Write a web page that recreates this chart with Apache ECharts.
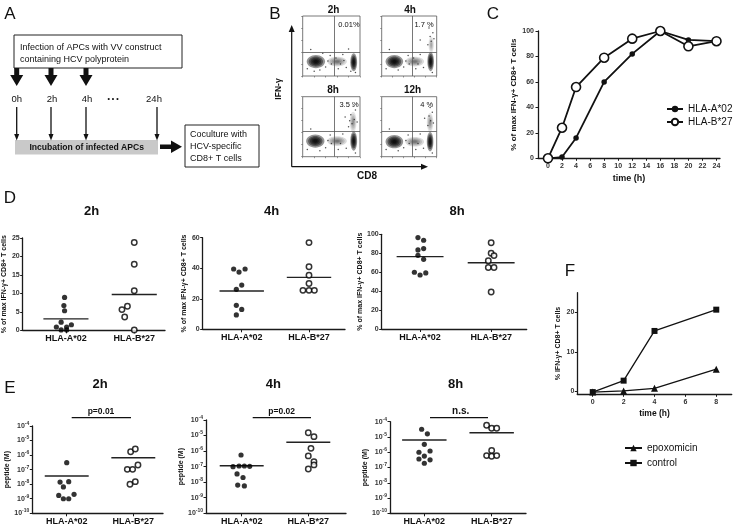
<!DOCTYPE html>
<html><head><meta charset="utf-8">
<script src="https://cdn.jsdelivr.net/npm/echarts@6/dist/echarts.min.js"></script>
<style>html,body{margin:0;padding:0;background:#fff}#c{width:735px;height:530px}</style>
</head><body><div id="c"></div><script>
// ================= DATA =================
// Panel C: time course
const cTime = [0, 2, 4, 8, 12, 16, 20, 24];
const cA02  = [0, 1, 16, 60, 82, 100, 93, 92];
const cB27  = [0, 24, 56, 79, 94, 100, 88, 92];
const cTicks = [0, 2, 4, 6, 8, 10, 12, 14, 16, 18, 20, 22, 24];

const groups = ['HLA-A*02', 'HLA-B*27'];

// Panel D: % of max IFN-g+ CD8+ T cells (values, jitter in group units, medians)
const d2hA = [8.9, 6.7, 5.3, 2.2, 1.5, 0.9, 0.9, 0.1, 0.1];
const d2hAj = [-0.02, -0.03, -0.02, -0.07, 0.08, -0.14, 0.01, -0.07, 0.01];
const d2hB = [23.8, 17.9, 10.7, 6.5, 5.6, 3.6, 0.1];
const d2hBj = [0, 0, 0, -0.1, -0.18, -0.14, 0];
const d2hMed = [3.1, 9.7];

const d4hA = [39.5, 37.5, 39.5, 26.2, 29, 15.7, 13, 9.4];
const d4hAj = [-0.12, -0.04, 0.05, -0.08, 0, -0.08, 0, -0.08];
const d4hB = [56.8, 41, 35.4, 30, 25.5, 25.5, 25.5];
const d4hBj = [0, 0, 0, 0, -0.09, 0, 0.08];
const d4hMed = [25.1, 34];

const d8hA = [96.5, 93.7, 83.5, 84.9, 77.8, 73.6, 59.9, 57, 59.2];
const d8hAj = [-0.03, 0.05, -0.03, 0.05, -0.03, 0.05, -0.08, 0, 0.08];
const d8hB = [91, 80, 77.5, 72, 65, 65, 39];
const d8hBj = [0, 0, 0.04, -0.04, -0.04, 0.04, 0];
const d8hMed = [76.4, 70];

// Panel E: peptide (M)
const e2hA = [3.0e-7, 1.4e-8, 1.5e-8, 6.5e-9, 1.7e-9, 2.0e-9, 1.0e-9, 1.0e-9];
const e2hAj = [0, -0.1, 0.03, -0.05, -0.12, 0.11, -0.05, 0.03];
const e2hB = [1.7e-6, 2.6e-6, 1.05e-7, 1.05e-7, 2.1e-7, 1.0e-8, 1.5e-8];
const e2hBj = [-0.04, 0.03, -0.09, -0.01, 0.07, -0.05, 0.03];
const e2hMed = [3.7e-8, 6.6e-7];

const e4hA = [5.6e-7, 1.0e-7, 1.1e-7, 1.1e-7, 1.05e-7, 3.4e-8, 2.0e-8, 6.5e-9, 5.8e-9];
const e4hAj = [-0.01, -0.13, -0.04, 0.04, 0.12, -0.07, 0.02, -0.06, 0.04];
const e4hB = [1.5e-5, 8.5e-6, 1.5e-6, 4.9e-7, 2.1e-7, 1.3e-7, 7.1e-8];
const e4hBj = [0, 0.085, 0.04, 0, 0.085, 0.085, 0];
const e4hMed = [1.15e-7, 3.7e-6];

const e8hA = [3.2e-5, 1.6e-5, 3.3e-6, 1.0e-6, 1.2e-6, 5.6e-7, 3.6e-7, 3.2e-7, 1.9e-7];
const e8hAj = [-0.04, 0.045, 0, -0.08, 0.085, 0, -0.08, 0.085, 0];
const e8hB = [5.8e-5, 3.7e-5, 3.7e-5, 1.3e-6, 6.0e-7, 5.5e-7, 6.0e-7];
const e8hBj = [-0.075, 0, 0.075, 0, -0.075, 0, 0.075];
const e8hMed = [6.3e-6, 1.9e-5];

const eTicks = [1e-10, 1e-9, 1e-8, 1e-7, 1e-6, 1e-5, 1e-4];

// Panel F
const fTime = [0, 2, 4, 8];
const fEpox = [-0.2, 0.1, 0.75, 5.6];
const fCtrl = [-0.2, 2.7, 15.3, 20.7];
const fXTicks = [0, 2, 4, 6, 8];
const fYTicks = [0, 10, 20];

// Panel B: flow plots (cell clusters: [cx, cy, rx, ry, density] in % of plot), gates, scattered events
const flowTitles = ['2h', '4h', '8h', '12h'];
const flowPct = ['0.01%', '1.7 %', '3.5 %', '4 %'];
const flowGateX = [55, 56, 55, 56];
const flowGateY = [40, 40, 42, 42];
const flowBlobs = [
  [[23, 24, 16, 11, 1], [60, 24, 17, 8, 0.35], [89, 23, 6, 15, 1]],
  [[23, 24, 16, 11, 1], [60, 24, 17, 8, 0.35], [89, 24, 6, 16, 1], [90, 52, 5, 14, 0.2]],
  [[22, 26, 16, 11, 1], [60, 26, 17, 8, 0.35], [89, 26, 6, 16, 1], [88, 58, 6, 17, 0.25]],
  [[23, 25, 16, 11, 1], [60, 25, 17, 8, 0.35], [88, 25, 6, 16, 1], [88, 57, 6, 16, 0.25]]
];
const flowDots = [
  [[8,12],[14,44],[30,10],[40,15],[48,34],[62,12],[70,36],[76,14],[92,6],[80,45],[50,20],[35,38],[66,20],[44,25],[58,30],[72,26],[20,8],[84,8]],
  [[8,12],[14,44],[30,10],[40,15],[48,34],[62,12],[70,36],[76,14],[92,6],[50,20],[66,20],[44,25],[58,30],[84,52],[90,58],[88,66],[93,72],[86,80],[95,62],[70,60]],
  [[8,12],[14,46],[30,10],[40,15],[48,36],[62,12],[70,38],[76,14],[92,6],[50,22],[66,22],[44,27],[80,50],[86,55],[90,62],[84,70],[92,78],[88,84],[95,58],[82,60],[74,66]],
  [[8,12],[14,46],[30,10],[40,15],[48,36],[62,12],[70,38],[76,14],[92,6],[50,22],[66,22],[44,27],[84,52],[89,60],[86,68],[92,74],[88,82],[94,56],[78,64]]
];

// ================= CHART =================
const FF = 'Liberation Sans, Arial, Helvetica, sans-serif';
const AX = '#1a1a1a';
const HALF = 0.33;
const chart = echarts.init(document.getElementById('c'), null, {renderer: 'canvas'});

const grids = [
  {left: 538, top: 31, width: 182, height: 127.3},                 // 0 C
  {left: 302.7, top: 16, width: 57.3, height: 60},                  // 1 flow 2h
  {left: 381.7, top: 16, width: 55, height: 60},                    // 2 flow 4h
  {left: 302.7, top: 96.7, width: 57.3, height: 60},                // 3 flow 8h
  {left: 381.7, top: 96.7, width: 55, height: 60},                  // 4 flow 12h
  {left: 19.3, top: 238, width: 145.7, height: 92.3},               // 5 D 2h
  {left: 202.7, top: 237.7, width: 142.3, height: 91.6},            // 6 D 4h
  {left: 381.7, top: 234.3, width: 145, height: 94.7},              // 7 D 8h
  {left: 32.3, top: 426, width: 130.7, height: 87.3},               // 8 E 2h
  {left: 206, top: 420, width: 140, height: 93.3},                  // 9 E 4h
  {left: 390, top: 421.7, width: 136, height: 91.6},                // 10 E 8h
  {left: 577.3, top: 292.7, width: 154.4, height: 101.6}            // 11 F
];
for (let i = 1; i <= 4; i++) Object.assign(grids[i], {show: true, borderColor: '#555', borderWidth: 0.8, backgroundColor: 'transparent'});

const xAxes = [], yAxes = [], series = [];
const lineAx = {show: true, onZero: false, lineStyle: {color: AX, width: 1.3}};
const tickLbl = {fontSize: 7, fontWeight: 'bold', color: '#333', margin: 3, fontFamily: FF};

// --- C
xAxes.push({type: 'value', gridIndex: 0, min: -1.42, max: 24.5, axisLine: lineAx,
  axisTick: {show: true, customValues: cTicks, length: 2.5, lineStyle: {color: AX}},
  axisLabel: Object.assign({}, tickLbl, {customValues: cTicks, margin: 4}), splitLine: {show: false},
  name: 'time (h)', nameLocation: 'middle', nameGap: 16, nameTextStyle: {fontSize: 9, fontWeight: 'bold', color: '#111', fontFamily: FF}});
yAxes.push({type: 'value', gridIndex: 0, min: 0, max: 100, interval: 20, axisLine: lineAx,
  axisTick: {show: true, length: 2.5, lineStyle: {color: AX}}, axisLabel: Object.assign({}, tickLbl, {margin: 4}), splitLine: {show: false},
  name: '% of max IFN-\u03b3+ CD8+ T cells', nameLocation: 'middle', nameGap: 20, nameTextStyle: {fontSize: 8, fontWeight: 'bold', color: '#111', fontFamily: FF}});
series.push({type: 'line', name: 'HLA-A*02', xAxisIndex: 0, yAxisIndex: 0, data: cTime.map((t, i) => [t, cA02[i]]),
  symbol: 'circle', symbolSize: 5.5, showAllSymbol: true, lineStyle: {color: '#111', width: 1.8}, itemStyle: {color: '#111'}});
series.push({type: 'line', name: 'HLA-B*27', xAxisIndex: 0, yAxisIndex: 0, data: cTime.map((t, i) => [t, cB27[i]]),
  symbol: 'circle', symbolSize: 9, showAllSymbol: true, lineStyle: {color: '#111', width: 1.8}, itemStyle: {color: '#fff', borderColor: '#111', borderWidth: 1.6}});

// --- B flow plots
function blobRender(params, api) {
  const c = api.coord([api.value(0), api.value(1)]);
  const s = api.size([api.value(2), api.value(3)]);
  const d = api.value(4);
  const children = [];
  [1, 0.78, 0.58, 0.4, 0.24].forEach(k => children.push({type: 'ellipse',
    shape: {cx: c[0], cy: c[1], rx: s[0] * k, ry: s[1] * k},
    style: {fill: 'rgba(0,0,0,' + (0.42 * d) + ')'}}));
  return {type: 'group', children};
}
for (let i = 0; i < 4; i++) {
  const g = i + 1;
  xAxes.push({type: 'value', gridIndex: g, min: 0, max: 100, interval: 20, axisLine: {show: false, onZero: false},
    axisTick: {show: true, length: 1.5, lineStyle: {color: '#555', width: 0.6}}, axisLabel: {show: false}, splitLine: {show: false}});
  yAxes.push({type: 'value', gridIndex: g, min: 0, max: 100, interval: 20, axisLine: {show: false, onZero: false},
    axisTick: {show: true, length: 1.5, lineStyle: {color: '#555', width: 0.6}}, axisLabel: {show: false}, splitLine: {show: false}});
  series.push({type: 'custom', name: 'flow' + i, xAxisIndex: g, yAxisIndex: g, data: flowBlobs[i], renderItem: blobRender, clip: true, silent: true});
  series.push({type: 'scatter', name: 'flowdots' + i, xAxisIndex: g, yAxisIndex: g, data: flowDots[i], symbolSize: 1.5,
    itemStyle: {color: '#222'}, silent: true,
    markLine: {silent: true, symbol: 'none', label: {show: false}, lineStyle: {color: '#555', width: 0.8, type: 'solid'},
      data: [{xAxis: flowGateX[i]}, {yAxis: flowGateY[i]}]}});
}

// --- D & E dot plots
function groupX(gi, min, max) {
  return {type: 'value', gridIndex: gi, min, max, axisLine: lineAx,
    axisTick: {show: true, customValues: [1, 2], length: 3, lineStyle: {color: AX}},
    axisLabel: {customValues: [1, 2], formatter: v => groups[Math.round(v) - 1] || '', fontSize: 9, fontWeight: 'bold', color: '#111', margin: 4, fontFamily: FF},
    splitLine: {show: false}};
}
function dotSeries(gi, A, Aj, B, Bj, med, tag) {
  series.push({type: 'scatter', name: tag + 'A', xAxisIndex: gi, yAxisIndex: gi, data: A.map((v, i) => [1 + Aj[i], v]),
    symbol: 'circle', symbolSize: 5.2, itemStyle: {color: '#000'}, z: 3});
  series.push({type: 'scatter', name: tag + 'B', xAxisIndex: gi, yAxisIndex: gi, data: B.map((v, i) => [2 + Bj[i], v]),
    symbol: 'circle', symbolSize: 5.4, itemStyle: {color: '#fff', borderColor: '#000', borderWidth: 1.5}, z: 3});
  series.push({type: 'line', name: tag + 'mA', xAxisIndex: gi, yAxisIndex: gi, data: [[1 - HALF, med[0]], [1 + HALF, med[0]]],
    symbol: 'none', lineStyle: {color: '#222', width: 1.4}, z: 2});
  series.push({type: 'line', name: tag + 'mB', xAxisIndex: gi, yAxisIndex: gi, data: [[2 - HALF, med[1]], [2 + HALF, med[1]]],
    symbol: 'none', lineStyle: {color: '#222', width: 1.4}, z: 2});
}
const dName = '% of max IFN-\u03b3+ CD8+ T cells';
function dY(gi, max, interval, gap) {
  return {type: 'value', gridIndex: gi, min: 0, max, interval, axisLine: lineAx,
    axisTick: {show: true, length: 2.5, lineStyle: {color: AX}}, axisLabel: tickLbl, splitLine: {show: false},
    name: dName, nameLocation: 'middle', nameGap: gap, nameTextStyle: {fontSize: 7, fontWeight: 'bold', color: '#111', fontFamily: FF}};
}
function eY(gi, gap) {
  return {type: 'log', logBase: 10, gridIndex: gi, min: eTicks[0], max: eTicks[eTicks.length - 1], axisLine: lineAx,
    axisTick: {show: true, length: 2.5, lineStyle: {color: AX}},
    axisLabel: {margin: 3, formatter: v => '{b|10}{s|' + Math.round(Math.log10(v)) + '}',
      rich: {b: {fontSize: 7, fontWeight: 'bold', color: '#333', fontFamily: FF},
             s: {fontSize: 5, fontWeight: 'bold', color: '#333', fontFamily: FF, verticalAlign: 'top', padding: [0, 0, 5, 0]}}},
    splitLine: {show: false}, minorTick: {show: false},
    name: 'peptide (M)', nameLocation: 'middle', nameGap: gap, nameTextStyle: {fontSize: 7, fontWeight: 'bold', color: '#111', fontFamily: FF}};
}
xAxes.push(groupX(5, 0.367, 2.45)); yAxes.push(dY(5, 25, 5, 10));
xAxes.push(groupX(6, 0.42, 2.535)); yAxes.push(dY(6, 60, 20, 10));
xAxes.push(groupX(7, 0.46, 2.50)); yAxes.push(dY(7, 100, 20, 14));
xAxes.push(groupX(8, 0.483, 2.446)); yAxes.push(eY(8, 20));
xAxes.push(groupX(9, 0.464, 2.566)); yAxes.push(eY(9, 20));
xAxes.push(groupX(10, 0.49, 2.51)); yAxes.push(eY(10, 20));
dotSeries(5, d2hA, d2hAj, d2hB, d2hBj, d2hMed, 'd2');
dotSeries(6, d4hA, d4hAj, d4hB, d4hBj, d4hMed, 'd4');
dotSeries(7, d8hA, d8hAj, d8hB, d8hBj, d8hMed, 'd8');
dotSeries(8, e2hA, e2hAj, e2hB, e2hBj, e2hMed, 'e2');
dotSeries(9, e4hA, e4hAj, e4hB, e4hBj, e4hMed, 'e4');
dotSeries(10, e8hA, e8hAj, e8hB, e8hBj, e8hMed, 'e8');

// --- F
xAxes.push({type: 'value', gridIndex: 11, min: -1, max: 9, axisLine: lineAx,
  axisTick: {show: true, customValues: fXTicks, length: 2.5, lineStyle: {color: AX}},
  axisLabel: Object.assign({}, tickLbl, {customValues: fXTicks, margin: 4}), splitLine: {show: false},
  name: 'time (h)', nameLocation: 'middle', nameGap: 15, nameTextStyle: {fontSize: 8.5, fontWeight: 'bold', color: '#111', fontFamily: FF}});
yAxes.push({type: 'value', gridIndex: 11, min: -0.76, max: 25, axisLine: lineAx,
  axisTick: {show: true, customValues: fYTicks, length: 2.5, lineStyle: {color: AX}},
  axisLabel: Object.assign({}, tickLbl, {customValues: fYTicks}), splitLine: {show: false},
  name: '% IFN-\u03b3+ CD8+ T cells', nameLocation: 'middle', nameGap: 16, nameTextStyle: {fontSize: 7, fontWeight: 'bold', color: '#111', fontFamily: FF}});
series.push({type: 'line', name: 'epoxomicin', xAxisIndex: 11, yAxisIndex: 11, data: fTime.map((t, i) => [t, fEpox[i]]),
  symbol: 'triangle', symbolSize: 7, lineStyle: {color: '#111', width: 1.3}, itemStyle: {color: '#111'}});
series.push({type: 'line', name: 'control', xAxisIndex: 11, yAxisIndex: 11, data: fTime.map((t, i) => [t, fCtrl[i]]),
  symbol: 'rect', symbolSize: 6, lineStyle: {color: '#111', width: 1.3}, itemStyle: {color: '#111'}});

// ================= GRAPHICS (panel A diagram, labels) =================
function txt(text, x, y, size, weight, align, extra) {
  return Object.assign({type: 'text', silent: true, x: x, y: y,
    style: {text, x: 0, y: 0, fontSize: size, fontWeight: weight || 'normal', fontFamily: FF, fill: '#111',
      align: align || 'center', textAlign: align || 'center', verticalAlign: 'middle', textVerticalAlign: 'middle'}}, extra || {});
}
function rtxt(text, x, y, size, weight) { return txt(text, x, y, size, weight, 'center', {rotation: Math.PI / 2}); }
function hline(x1, x2, y, w) { return {type: 'line', silent: true, shape: {x1, y1: y, x2, y2: y}, style: {stroke: '#111', lineWidth: w || 1.3}}; }
const g = [];
// panel letters
g.push(txt('A', 10, 14, 17), txt('B', 275, 14, 17), txt('C', 493, 14, 17), txt('D', 10, 198, 17), txt('E', 10, 388, 17), txt('F', 570, 271, 17));
// panel A diagram
g.push({type: 'rect', silent: true, shape: {x: 14, y: 35, width: 168, height: 33}, style: {fill: '#fff', stroke: '#222', lineWidth: 1}});
g.push(txt('Infection of APCs with VV construct', 20, 47.5, 9, 'normal', 'left'), txt('containing HCV polyprotein', 20, 60, 9, 'normal', 'left'));
[16.7, 51, 86].forEach(cx => g.push({type: 'polygon', silent: true,
  shape: {points: [[cx - 2.5, 68], [cx + 2.5, 68], [cx + 2.5, 75], [cx + 6.5, 75], [cx, 86], [cx - 6.5, 75], [cx - 2.5, 75]]}, style: {fill: '#111'}}));
g.push(txt('0h', 16.7, 99.5, 9.5), txt('2h', 52, 99.5, 9.5), txt('4h', 87, 99.5, 9.5), txt('\u2022 \u2022 \u2022', 113, 99.5, 7, 'bold'), txt('24h', 154, 99.5, 9.5));
g.push({type: 'rect', silent: true, shape: {x: 15, y: 140, width: 143, height: 14.5}, style: {fill: '#c9c9c9'}});
[16.7, 51, 86, 157].forEach(x => {
  g.push({type: 'line', silent: true, shape: {x1: x, y1: 107, x2: x, y2: 135}, style: {stroke: '#111', lineWidth: 1.3}});
  g.push({type: 'polygon', silent: true, shape: {points: [[x - 2.5, 134], [x + 2.5, 134], [x, 140.5]]}, style: {fill: '#111'}});
});
g.push(txt('Incubation of infected APCs', 86.7, 147.5, 8.6, 'bold'));
g.push({type: 'polygon', silent: true, shape: {points: [[160, 144.5], [171, 144.5], [171, 140.5], [182, 146.8], [171, 153], [171, 149], [160, 149]]}, style: {fill: '#111'}});
g.push({type: 'rect', silent: true, shape: {x: 185, y: 125, width: 74, height: 42}, style: {fill: '#fff', stroke: '#222', lineWidth: 1}});
g.push(txt('Coculture with', 190, 135, 9, 'normal', 'left'), txt('HCV-specific', 190, 146.7, 9, 'normal', 'left'), txt('CD8+ T cells', 190, 158.3, 9, 'normal', 'left'));
// panel B labels and arrows
[[333.5, 10.7], [410, 10.7], [333, 90.5], [412.5, 90.5]].forEach((p, i) => g.push(txt(flowTitles[i], p[0], p[1], 10, 'bold')));
[[349, 25], [424, 25], [349, 105], [426.7, 105]].forEach((p, i) => g.push(txt(flowPct[i], p[0], p[1], 7.5)));
g.push({type: 'line', silent: true, shape: {x1: 291.7, y1: 166.7, x2: 291.7, y2: 31}, style: {stroke: '#111', lineWidth: 1.2}});
g.push({type: 'polygon', silent: true, shape: {points: [[288.7, 32], [294.7, 32], [291.7, 25]]}, style: {fill: '#111'}});
g.push({type: 'line', silent: true, shape: {x1: 291.7, y1: 166.7, x2: 422, y2: 166.7}, style: {stroke: '#111', lineWidth: 1.2}});
g.push({type: 'polygon', silent: true, shape: {points: [[421, 163.7], [421, 169.7], [428, 166.7]]}, style: {fill: '#111'}});
g.push(txt('CD8', 367, 176.7, 10, 'bold'), rtxt('IFN-\u03b3', 278.7, 89, 8.5, 'bold'));
// panel D / E titles
g.push(txt('2h', 91.5, 211, 13, 'bold'), txt('4h', 271.5, 211.5, 13, 'bold'), txt('8h', 457, 211, 13, 'bold'));
g.push(txt('2h', 100, 384, 13, 'bold'), txt('4h', 273.3, 384, 13, 'bold'), txt('8h', 455.5, 384, 13, 'bold'));
// significance bars
g.push(hline(71.7, 131, 417.7), txt('p=0.01', 101, 412, 8.5, 'bold'));
g.push(hline(252.7, 311, 417.7), txt('p=0.02', 281.7, 412, 8.5, 'bold'));
g.push(hline(430, 488, 417.7), txt('n.s.', 460.7, 411, 10, 'bold'));

const option = {
  animation: false,
  backgroundColor: '#fff',
  textStyle: {fontFamily: FF},
  grid: grids, xAxis: xAxes, yAxis: yAxes, series: series,
  legend: [
    {data: ['HLA-A*02', 'HLA-B*27'], orient: 'vertical', left: 661, top: 99, itemWidth: 16, itemHeight: 8, itemGap: 3,
      textStyle: {fontSize: 10, color: '#111', fontFamily: FF}, selectedMode: false},
    {data: ['epoxomicin', 'control'], orient: 'vertical', left: 619, top: 438, itemWidth: 17, itemHeight: 8, itemGap: 5,
      textStyle: {fontSize: 10, color: '#111', fontFamily: FF}, selectedMode: false}
  ],
  graphic: g
};
chart.setOption(option);
</script></body></html>
